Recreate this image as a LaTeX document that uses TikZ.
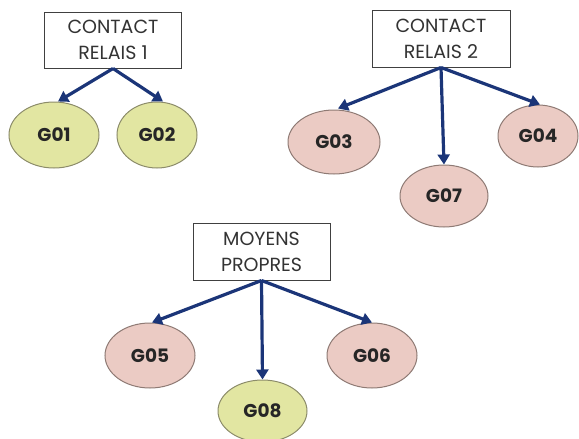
\documentclass[tikz,border=0pt]{standalone}
\usepackage{fontspec}
\setmainfont{Poppins}
\usetikzlibrary{shapes.geometric,arrows.meta}
\definecolor{arrowblue}{HTML}{1B3578}
\definecolor{greenfill}{HTML}{E2E6A2}
\definecolor{greenline}{HTML}{8C8C6A}
\definecolor{pinkfill}{HTML}{EBCBC4}
\definecolor{pinkline}{HTML}{8E7A74}
\begin{document}
\begin{tikzpicture}[x=1pt,y=-1pt,
  labelbox/.style={draw=black!75,line width=1pt,fill=white,align=center,font=\fontsize{19}{26}\selectfont,text=black!80,inner sep=0},
  gnode/.style={ellipse,line width=1pt,inner sep=0,font=\bfseries\fontsize{18.5}{20}\selectfont,text=black!85},
  gg/.style={gnode,draw=greenline,fill=greenfill},
  pg/.style={gnode,draw=pinkline,fill=pinkfill},
  link/.style={draw=arrowblue,line width=3.2pt,-{Triangle[length=10pt,width=12pt]}}]
\useasboundingbox (0,0) rectangle (579,439);
\node[labelbox,minimum width=137pt,minimum height=56pt] (b1) at (113,40) {CONTACT\\RELAIS 1};
\node[labelbox,minimum width=138pt,minimum height=57pt] (b2) at (441,38.5) {CONTACT\\RELAIS 2};
\node[labelbox,minimum width=137pt,minimum height=57pt] (b3) at (261.5,251.5) {MOYENS\\PROPRES};
\node[gg,minimum width=90pt,minimum height=66pt] (g01) at (54,135) {G01};
\node[gg,minimum width=80pt,minimum height=66pt] (g02) at (157,135) {G02};
\node[pg,minimum width=92pt,minimum height=64pt] (g03) at (334,142) {G03};
\node[pg,minimum width=80pt,minimum height=62pt] (g04) at (538,136) {G04};
\node[pg,minimum width=88pt,minimum height=62pt] (g07) at (444,196) {G07};
\node[pg,minimum width=90pt,minimum height=65pt] (g05) at (150,355.5) {G05};
\node[pg,minimum width=90pt,minimum height=65pt] (g06) at (372,355.5) {G06};
\node[gg,minimum width=89pt,minimum height=62pt] (g08) at (262.5,411) {G08};
\draw[link] (b1.south) -- ([xshift=4pt]g01.north);
\draw[link] (b1.south) -- ([xshift=6pt]g02.north);
\draw[link] (b2.south) -- ([xshift=4pt,yshift=1pt]g03.north);
\draw[link] (b2.south) -- ([xshift=2pt]g04.north);
\draw[link] (b2.south) -- (g07.north);
\draw[link] (b3.south) -- ([xshift=2pt]g05.north);
\draw[link] (b3.south) -- (g06.north);
\draw[link] (b3.south) -- (g08.north);
\end{tikzpicture}
\end{document}
